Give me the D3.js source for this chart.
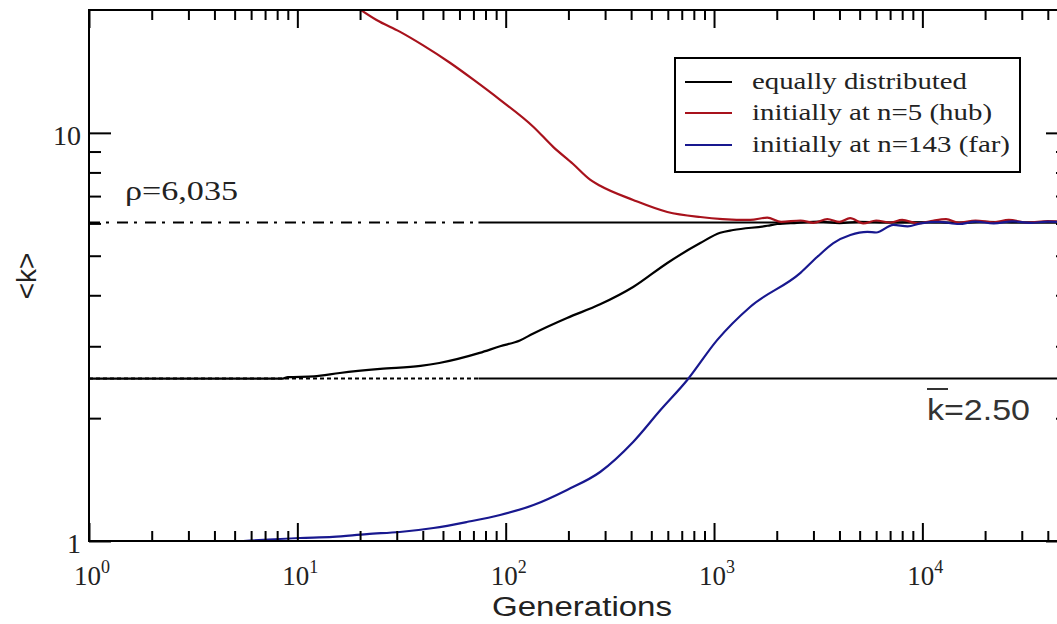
<!DOCTYPE html>
<html>
<head>
<meta charset="utf-8">
<script src="https://cdn.jsdelivr.net/npm/d3@7/dist/d3.min.js"></script>
<style>
  html, body { margin: 0; padding: 0; background: #fff; }
  svg { display: block; }
</style>
</head>
<body>
<svg id="chart" width="1057" height="624"></svg>
<script>
// ---------------- data ----------------
const seriesNames = ["equally distributed", "initially at n=5 (hub)", "initially at n=143 (far)"];
const seriesColors = ["#000000", "#a8121c", "#18188f"];

// generations, <k>
const equalGen = [1, 3, 8.5, 9, 12, 16, 25, 39, 48, 75, 94, 117, 135, 197, 284, 409, 597, 859, 1071, 1237, 1803, 2010, 2500, 3200, 4000, 5000, 7000, 10000, 15000, 20000, 30000, 50000];
const equalK   = [2.5, 2.5, 2.5, 2.52, 2.53, 2.58, 2.64, 2.685, 2.73, 2.89, 3.0, 3.1, 3.22, 3.52, 3.8, 4.19, 4.8, 5.37, 5.69, 5.78, 5.92, 5.98, 6.02, 6.06, 6.01, 6.05, 6.03, 6.04, 6.02, 6.05, 6.03, 6.04];

const hubGen = [19.6, 24, 31, 40, 54, 70, 94, 136, 169, 210, 255, 284, 409, 597, 859, 1100, 1494, 1800, 2100, 2600, 3000, 3500, 4000, 4500, 5200, 6000, 7000, 8000, 9500, 11000, 13000, 15000, 18000, 22000, 26000, 32000, 40000, 50000];
const hubK   = [20.2, 18.9, 17.7, 16.4, 14.85, 13.5, 12.05, 10.34, 9.24, 8.4, 7.67, 7.42, 6.85, 6.4, 6.22, 6.15, 6.12, 6.2, 6.05, 6.1, 6.02, 6.15, 6.05, 6.18, 6.0, 6.1, 6.03, 6.12, 6.0, 6.08, 6.15, 6.02, 6.1, 6.04, 6.12, 6.03, 6.08, 6.05];

const farGen = [5.5, 10.3, 14.8, 21.6, 31, 45, 65, 94, 136, 197, 284, 409, 552, 744, 1037, 1494, 2600, 3134, 3740, 4511, 5446, 6000, 7261, 8500, 9800, 12000, 15000, 18000, 22000, 27000, 33000, 40000, 50000];
const farK   = [1.0, 1.017, 1.023, 1.04, 1.052, 1.076, 1.113, 1.158, 1.225, 1.334, 1.476, 1.748, 2.09, 2.48, 3.11, 3.75, 4.54, 4.97, 5.37, 5.62, 5.72, 5.7, 5.95, 5.9, 6.0, 6.05, 5.98, 6.06, 6.0, 6.07, 6.02, 6.06, 6.03];

const rhoValue = 6.035;
const kbarValue = 2.5;
const refBreakGen = 74;   // reference lines change from broken to solid here

const xMajorTicks = [1, 10, 100, 1000, 10000];
const xMinorTicks = [2,3,4,5,6,7,8,9, 20,30,40,50,60,70,80,90, 200,300,400,500,600,700,800,900,
                     2000,3000,4000,5000,6000,7000,8000,9000, 20000,30000,40000];
const yMajorTicks = [1, 10];
const yMinorTicks = [2,3,4,5,6,7,8,9];
const xDomain = [1, 50000];
const yDomain = [1, 20];

// ---------------- layout ----------------
const svg = d3.select("#chart");
const L = 89, R = 1068, T = 10, B = 541;
const x = d3.scaleLog().domain(xDomain).range([L, R]);
const y = d3.scaleLog().domain(yDomain).range([B, T]);

svg.append("rect").attr("width", 1057).attr("height", 624).attr("fill", "#fff");

svg.append("defs").append("clipPath").attr("id", "plotclip")
  .append("rect").attr("x", L).attr("y", T).attr("width", R - L).attr("height", B - T);

const plot = svg.append("g").attr("clip-path", "url(#plotclip)");

// reference lines
function refLine(val, dash) {
  plot.append("line")
    .attr("x1", x(1)).attr("x2", x(refBreakGen))
    .attr("y1", y(val)).attr("y2", y(val))
    .attr("stroke", "#000").attr("stroke-width", 2).attr("stroke-dasharray", dash);
  plot.append("line")
    .attr("x1", x(refBreakGen)).attr("x2", x(xDomain[1]))
    .attr("y1", y(val)).attr("y2", y(val))
    .attr("stroke", "#000").attr("stroke-width", 2);
}
refLine(rhoValue, "11,6,3,8");
refLine(kbarValue, "4,3");

// curves
const line = d3.line().x(d => x(d[0])).y(d => y(d[1])).curve(d3.curveMonotoneX);
const series = [
  d3.zip(equalGen, equalK),
  d3.zip(hubGen, hubK),
  d3.zip(farGen, farK)
];
series.forEach((s, i) => {
  plot.append("path").datum(s)
    .attr("d", line)
    .attr("fill", "none")
    .attr("stroke", seriesColors[i])
    .attr("stroke-width", 2.2)
    .attr("stroke-linejoin", "round");
});

// frame
svg.append("rect").attr("x", L).attr("y", T).attr("width", R - L).attr("height", B - T)
  .attr("fill", "none").attr("stroke", "#000").attr("stroke-width", 2);

// ticks
function ticks(axisFn, pos, vals, size) {
  const g = svg.append("g").attr("transform", pos)
    .call(axisFn.tickValues(vals).tickSize(size).tickSizeOuter(0).tickFormat(""));
  g.select(".domain").remove();
  g.selectAll(".tick line").attr("stroke", "#000").attr("stroke-width", 2);
  return g;
}
ticks(d3.axisBottom(x), `translate(0,${B})`, xMajorTicks, -18);
ticks(d3.axisBottom(x), `translate(0,${B})`, xMinorTicks, -10);
ticks(d3.axisTop(x), `translate(0,${T})`, xMajorTicks, -18);
ticks(d3.axisTop(x), `translate(0,${T})`, xMinorTicks, -10);
ticks(d3.axisLeft(y), `translate(${L},0)`, yMajorTicks, -22);
ticks(d3.axisLeft(y), `translate(${L},0)`, yMinorTicks, -12);
ticks(d3.axisRight(y), `translate(${R},0)`, yMajorTicks, -22);
ticks(d3.axisRight(y), `translate(${R},0)`, yMinorTicks, -12);

// x tick labels (10^n)
const serif = "'Liberation Serif', 'Times New Roman', serif";
const sans = "'Liberation Sans', Arial, sans-serif";
svg.append("g").selectAll("text").data(xMajorTicks).join("text")
  .attr("x", d => x(d) + 3)
  .attr("y", B + 44)
  .attr("text-anchor", "middle")
  .attr("font-family", serif).attr("font-size", 27).attr("fill", "#222")
  .each(function(d) {
    const t = d3.select(this);
    t.append("tspan").text("10");
    t.append("tspan").attr("dy", -12).attr("font-size", 18).text(Math.round(Math.log10(d)));
  });

// y tick labels
svg.append("g").selectAll("text").data(yMajorTicks).join("text")
  .attr("x", L - 8)
  .attr("y", d => y(d) + 12)
  .attr("text-anchor", "end")
  .attr("font-family", serif).attr("font-size", 28).attr("fill", "#222")
  .text(d => d);

// axis titles
svg.append("text")
  .attr("x", 582).attr("y", 616)
  .attr("text-anchor", "middle")
  .attr("font-family", sans).attr("font-size", 27).attr("fill", "#222")
  .attr("textLength", 180).attr("lengthAdjust", "spacingAndGlyphs")
  .text("Generations");

svg.append("text")
  .attr("transform", "translate(36,276) rotate(-90)")
  .attr("text-anchor", "middle")
  .attr("font-family", sans).attr("font-size", 28).attr("fill", "#222")
  .text("<k>");

// annotations
svg.append("text")
  .attr("x", 125).attr("y", 200)
  .attr("font-family", serif).attr("font-size", 28).attr("fill", "#222")
  .attr("textLength", 113).attr("lengthAdjust", "spacingAndGlyphs")
  .text("ρ=6,035");

svg.append("text")
  .attr("x", 927).attr("y", 420)
  .attr("font-family", sans).attr("font-size", 30).attr("fill", "#333")
  .attr("textLength", 103).attr("lengthAdjust", "spacingAndGlyphs")
  .text("k=2.50");
svg.append("line")
  .attr("x1", 927).attr("x2", 948).attr("y1", 389).attr("y2", 389)
  .attr("stroke", "#333").attr("stroke-width", 2);

// legend
const legend = svg.append("g");
legend.append("rect").attr("x", 675).attr("y", 58).attr("width", 345).attr("height", 114)
  .attr("fill", "#fff").attr("stroke", "#000").attr("stroke-width", 2);
const legendRowY = [82, 113, 145];
const legendTextLen = [215, 240, 258];
seriesNames.forEach((name, i) => {
  legend.append("line")
    .attr("x1", 685).attr("x2", 732)
    .attr("y1", legendRowY[i]).attr("y2", legendRowY[i])
    .attr("stroke", seriesColors[i]).attr("stroke-width", 2);
  legend.append("text")
    .attr("x", 752).attr("y", legendRowY[i] + 7)
    .attr("font-family", serif).attr("font-size", 23).attr("fill", "#222")
    .attr("textLength", legendTextLen[i]).attr("lengthAdjust", "spacingAndGlyphs")
    .text(name);
});
</script>
</body>
</html>
